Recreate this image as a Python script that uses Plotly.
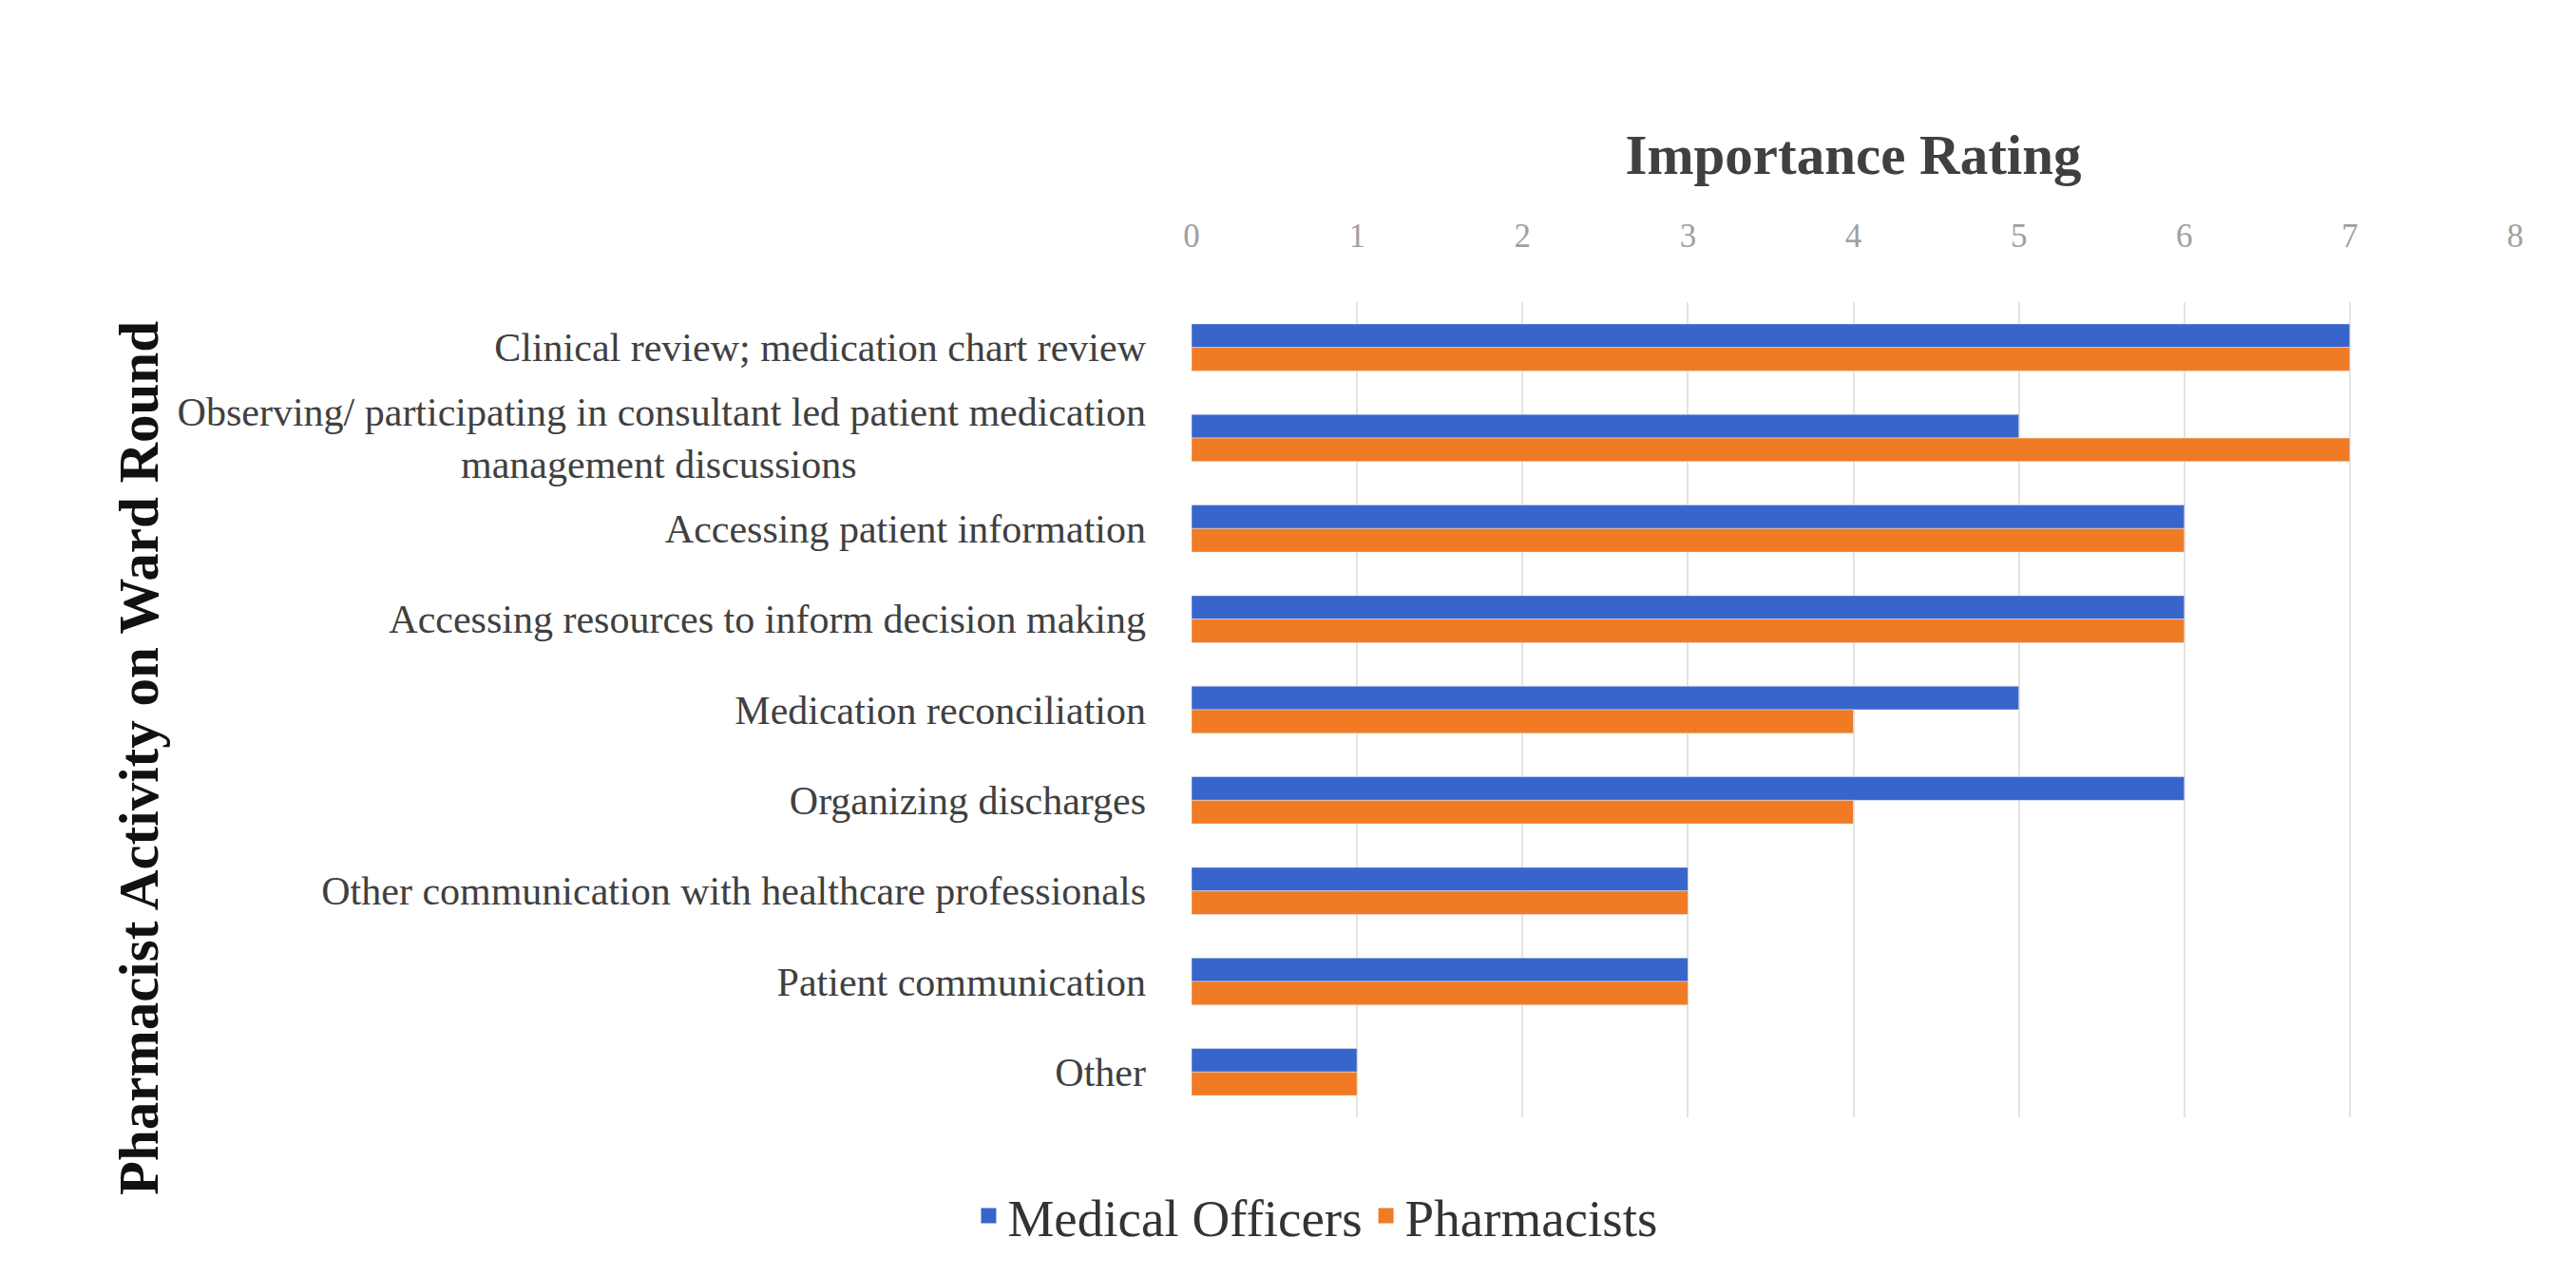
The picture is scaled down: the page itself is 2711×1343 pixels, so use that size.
import plotly.graph_objects as go

categories = [
    "Clinical review; medication chart review",
    "Observing/ participating in consultant led patient medication<br>management discussions",
    "Accessing patient information",
    "Accessing resources to inform decision making",
    "Medication reconciliation",
    "Organizing discharges",
    "Other communication with healthcare professionals",
    "Patient communication",
    "Other",
]
medical_officers = [7, 5, 6, 6, 5, 6, 3, 3, 1]
pharmacists = [7, 7, 6, 6, 4, 4, 3, 3, 1]
x_ticks = [0, 1, 2, 3, 4, 5, 6, 7, 8]
series_names = ["Medical Officers", "Pharmacists"]

BLUE = "#3865CC"
ORANGE = "#F07B24"
SERIF = "Liberation Serif, Times New Roman, serif"

# centre the second line of the wrapped label under the first
def pad(label):
    if "<br>" in label:
        a, b = label.split("<br>")
        n = int(round((len(a) - len(b)) * 0.74))
        return a + "<br>" + b + "&nbsp;" * n
    return label

ticktext = [pad(c) for c in categories]

fig = go.Figure()
for name, vals, col in zip(series_names, [medical_officers, pharmacists], [BLUE, ORANGE]):
    fig.add_trace(go.Bar(y=categories, x=vals, orientation="h", name=name,
                         marker_color=col, showlegend=False, legendgroup=name))
# legend entries with larger square swatches
for name, col in zip(series_names, [BLUE, ORANGE]):
    fig.add_trace(go.Scatter(x=[None], y=[None], mode="markers", name=name,
                             legendgroup=name,
                             marker=dict(symbol="square", size=24, color=col)))

fig.update_layout(
    width=2711, height=1343,
    margin=dict(l=1246, r=72, t=310, b=175),
    paper_bgcolor="white", plot_bgcolor="white",
    barmode="group", bargap=0.48, bargroupgap=0,
    font=dict(family=SERIF, color="#404040"),
    showlegend=True,
    legend=dict(orientation="h", x=0.094, xanchor="center", y=-0.121, yanchor="middle",
                font=dict(size=55, family=SERIF, color="#333333"),
                itemwidth=30, traceorder="normal"),
    xaxis=dict(side="top", range=[0, 8], tickvals=x_ticks,
               showgrid=True, gridcolor="#E3E3E3", gridwidth=2, zeroline=False,
               tickfont=dict(size=35, color="#A0A0A0", family=SERIF),
               ticklabelstandoff=50,
               title=dict(text="<b>Importance Rating</b>", standoff=26,
                          font=dict(size=59, color="#404040", family=SERIF))),
    yaxis=dict(categoryorder="array", categoryarray=categories, autorange="reversed",
               tickvals=categories, ticktext=ticktext,
               showgrid=False, zeroline=False, showline=False,
               tickfont=dict(size=42, color="#404040", family=SERIF),
               ticklabelstandoff=47),
    annotations=[dict(text="<b>Pharmacist Activity on Ward Round</b>", textangle=-90,
                      xref="paper", yref="paper", x=-0.795, y=0.44,
                      xanchor="center", yanchor="middle", showarrow=False,
                      font=dict(size=59, color="#111111", family=SERIF))],
)

fig.write_html("out.html")
